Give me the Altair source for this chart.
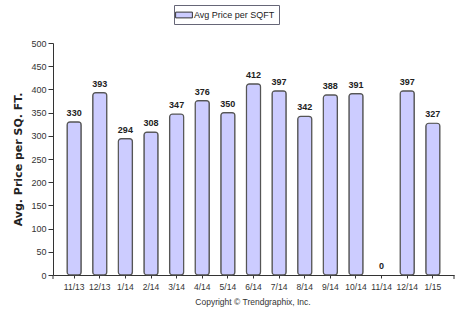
import altair as alt
import pandas as pd

months = ["11/13", "12/13", "1/14", "2/14", "3/14", "4/14", "5/14", "6/14",
          "7/14", "8/14", "9/14", "10/14", "11/14", "12/14", "1/15"]
prices = [330, 393, 294, 308, 347, 376, 350, 412, 397, 342, 388, 391, 0, 397, 327]
series = ["Avg Price per SQFT"] * len(months)
y_ticks = [0, 50, 100, 150, 200, 250, 300, 350, 400, 450, 500]

df = pd.DataFrame({"month": months, "price": prices, "series": series})

FONT = "Liberation Sans"
W, H = 401, 232

x = alt.X("month:N", sort=months, title=None,
          scale=alt.Scale(paddingInner=0.45, paddingOuter=0.55),
          axis=alt.Axis(labelAngle=0, labelFontSize=8.5, labelColor="#333333",
                        labelFont=FONT, ticks=True, tickSize=3, tickColor="#333333",
                        domainColor="#333333", labelPadding=4, labelOverlap=False))
y = alt.Y("price:Q", title="Avg. Price per SQ. FT.",
          scale=alt.Scale(domain=[0, 500], nice=False),
          axis=alt.Axis(values=y_ticks, tickCount=11, grid=False,
                        labelOverlap=False,
                        labelFontSize=9, labelColor="#333333", labelFont=FONT,
                        tickColor="#333333", domainColor="#333333", tickSize=5,
                        titleFont="DejaVu Sans", titleFontSize=11, titleFontWeight="bold",
                        titleColor="#222222", titleX=-35, titleY=H / 2,
                        titleAngle=270, titleBaseline="middle"))

bars = alt.Chart(df).transform_filter("datum.price > 0").mark_bar(
    stroke="#555555", strokeWidth=1.2, cornerRadius=3
).encode(
    x=x, y=y,
    color=alt.Color("series:N", title=None,
                    scale=alt.Scale(range=["#ccccff"]),
                    legend=alt.Legend(orient="none", legendX=121, legendY=-38,
                                      symbolType="M-1.6,-0.55L1.6,-0.55L1.6,0.55L-1.6,0.55Z",
                                      symbolSize=110, symbolStrokeColor="#333333",
                                      symbolStrokeWidth=1,
                                      labelFont=FONT, labelFontSize=9, labelColor="#222222",
                                      strokeColor="#666677", fillColor="white",
                                      padding=4, offset=0))
)

labels = alt.Chart(df).mark_text(
    dy=-9, font=FONT, fontSize=9, fontWeight="bold", color="#222222"
).encode(x=x, y=y, text="price:Q")

end_ticks = alt.Chart(pd.DataFrame({"p": [0, W]})).mark_rule(
    color="#333333", strokeWidth=1
).encode(x=alt.X("p:Q", scale=None), y=alt.value(H), y2=alt.value(H + 4))

copy_df = pd.DataFrame({"t": ["Copyright © Trendgraphix, Inc."]})
copyright_txt = alt.Chart(copy_df).mark_text(
    font=FONT, fontSize=8.5, color="#333333"
).encode(x=alt.value(200), y=alt.value(259), text="t:N")

chart = alt.layer(bars, labels, end_ticks, copyright_txt).properties(
    width=W, height=H,
    autosize=alt.AutoSizeParams(type="none"),
    padding={"left": 53, "top": 43, "right": 16, "bottom": 49},
).configure_view(stroke=None).configure_axisX(domainWidth=1).configure_axisY(domainWidth=1)

chart.save("out.html", embed_options={"renderer": "svg", "actions": False})
